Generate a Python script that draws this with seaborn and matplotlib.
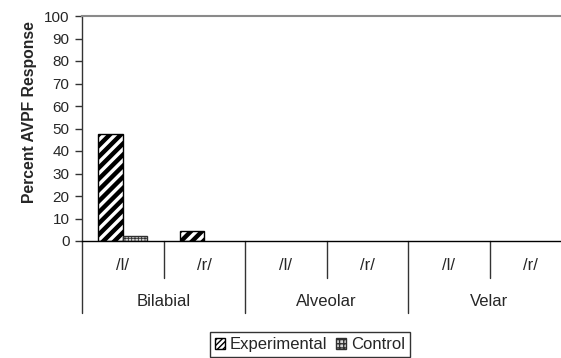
import matplotlib
matplotlib.use("Agg")
import matplotlib.pyplot as plt
import matplotlib.patches as mpatches
import seaborn as sns
import pandas as pd

groups = ["Bilabial", "Alveolar", "Velar"]
sounds = ["/l/", "/r/"]
series = ["Experimental", "Control"]
experimental = [47.6, 4.3, 0, 0, 0, 0]
control = [2.4, 0, 0, 0, 0, 0]
yticks = list(range(0, 101, 10))

cats = [f"{g} {s}" for g in groups for s in sounds]
df = pd.DataFrame({
    "cat": cats * 2,
    "series": [series[0]] * len(cats) + [series[1]] * len(cats),
    "value": experimental + control,
})

sns.set_style("white")
plt.rcParams["font.family"] = ["Liberation Sans", "DejaVu Sans"]
plt.rcParams["font.size"] = 12

fig = plt.figure(figsize=(5.61, 3.58), dpi=100)
ax = fig.add_axes([82 / 561, (358 - 241) / 358, 489 / 561, 225 / 358])

sns.barplot(data=df, x="cat", y="value", hue="series", order=cats,
            hue_order=series, width=0.6, ax=ax, legend=False,
            palette=["white", "white"], edgecolor="black", linewidth=1,
            errorbar=None)

def set_hlw(p, w):
    if hasattr(p, "set_hatch_linewidth"):
        p.set_hatch_linewidth(w)

for bar in ax.containers[0]:
    bar.set_hatch("///")
    set_hlw(bar, 3.2)
    if bar.get_height() == 0:
        bar.set_visible(False)
for bar in ax.containers[1]:
    bar.set_hatch("+++++")
    bar.set_facecolor("#d8d8d8")
    bar.set_edgecolor("#303030")
    set_hlw(bar, 0.6)
    if bar.get_height() == 0:
        bar.set_visible(False)

ax.set_xlim(-0.5, len(cats) - 0.5)
ax.set_ylim(0, 100)
ax.set_yticks(yticks)
ax.tick_params(axis="y", left=True, length=5, width=1, color="#333333",
               pad=4, labelsize=11)
ax.set_xticks([])
ax.set_xlabel("")
ax.set_ylabel("Percent AVPF Response", fontsize=11.3, fontweight="bold")
ax.yaxis.set_label_coords(-0.092, 0.573)

for side in ["right"]:
    ax.spines[side].set_visible(False)
ax.spines["top"].set_color("#8a8a8a")
ax.spines["top"].set_linewidth(1.5)
ax.spines["left"].set_color("#333333")
ax.spines["left"].set_linewidth(1)
ax.spines["bottom"].set_color("black")
ax.spines["bottom"].set_linewidth(1)

trans = ax.get_xaxis_transform()
short_y = -37 / 225
long_y = -72 / 225
ax.plot([-0.5, -0.5], [0, long_y], color="#333333", lw=1,
        transform=trans, clip_on=False)
for i in range(len(cats) - 1):
    xpos = i + 0.5
    yend = short_y if (i % 2 == 0) else long_y
    ax.plot([xpos, xpos], [0, yend], color="#333333", lw=1,
            transform=trans, clip_on=False)
for i, c in enumerate(cats):
    ax.text(i, -25 / 225, sounds[i % 2], transform=trans, ha="center",
            va="center", fontsize=12)
for j, g in enumerate(groups):
    ax.text(2 * j + 0.5, -61 / 225, g, transform=trans, ha="center",
            va="center", fontsize=12)

h1 = mpatches.Patch(facecolor="white", edgecolor="black", hatch="//////",
                    label=series[0])
h2 = mpatches.Patch(facecolor="#d8d8d8", edgecolor="#303030", hatch="++++",
                    label=series[1])
set_hlw(h1, 1.5)
set_hlw(h2, 0.5)
leg = fig.legend(handles=[h1, h2], loc="lower center",
                 bbox_to_anchor=(310 / 561, 0.0), ncol=2, frameon=True,
                 fancybox=False, edgecolor="black", fontsize=12,
                 handlelength=0.6, handleheight=0.6, handletextpad=0.3,
                 columnspacing=0.5, borderpad=0.3, borderaxespad=0.05)
leg.get_frame().set_linewidth(1)

fig.savefig("out.png", dpi=100)
